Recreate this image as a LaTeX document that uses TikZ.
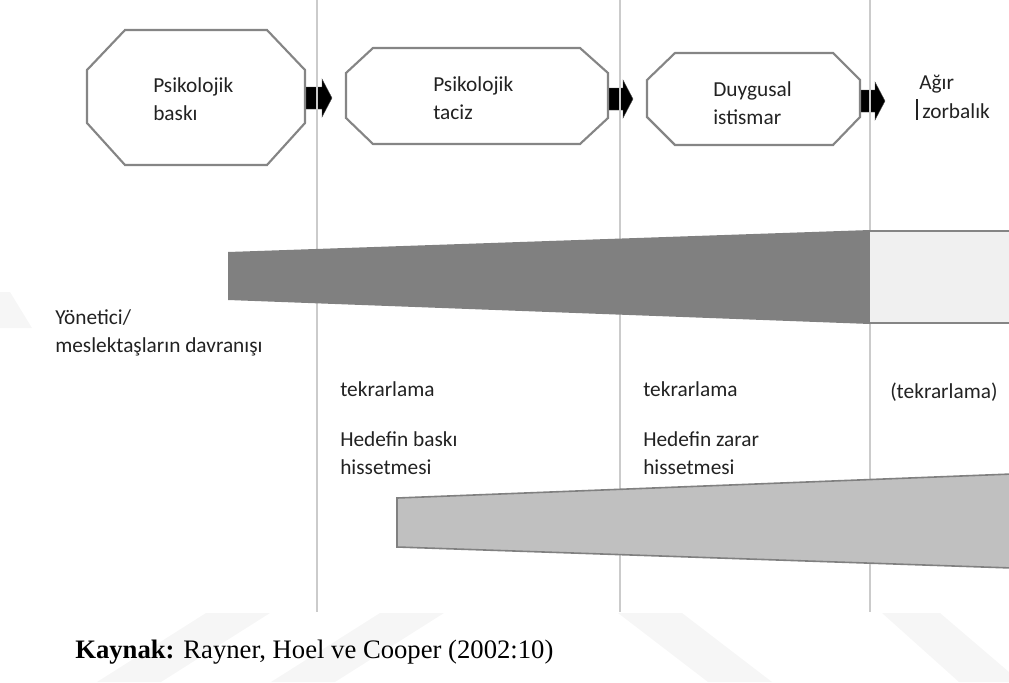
\documentclass[tikz,border=0pt]{standalone}
\usepackage{fontspec}
\setmainfont{Carlito}
\newfontfamily\timesfont{Liberation Serif}
\usetikzlibrary{calc}
\definecolor{txt}{HTML}{222222}
\definecolor{vline}{HTML}{CBCBCB}
\definecolor{octline}{HTML}{858585}
\definecolor{darkband}{HTML}{808080}
\definecolor{lightbox}{HTML}{F0F0F0}
\definecolor{midband}{HTML}{C0C0C0}
\definecolor{wmark}{HTML}{F6F6F6}
\tikzset{
  octo/.style={draw=octline, line width=1.6pt, fill=white, line join=miter},
  lbl/.style={anchor=west, inner sep=0pt, align=left, text=txt,
    font=\fontsize{16}{21}\selectfont},
  phase/.style={draw=vline, line width=2.2pt},
  blockarrow/.style={fill=black, draw=black!70, line width=0.3pt},
  wm/.style={fill=wmark, draw=none}
}
\begin{document}
\begin{tikzpicture}[x=0.75pt, y=-0.75pt]
\useasboundingbox (0,0) rectangle (1009,682);
% faint watermark
\fill[wm] (206,613) -- (270,613) -- (161,682) -- (97,682) -- cycle;
\fill[wm] (380,613) -- (444,613) -- (335,682) -- (271,682) -- cycle;
\fill[wm] (618,613) -- (682,613) -- (772,682) -- (708,682) -- cycle;
\fill[wm] (882,613) -- (940,613) -- (1009,672) -- (1009,682) -- (959,682) -- cycle;
\fill[wm] (0,292) -- (10,292) -- (32,328) -- (0,328) -- cycle;

% block arrows (under the phase lines)
\coordinate (o1e) at (305,98);
\coordinate (o2e) at (608,99);
\coordinate (o3e) at (860,101);
\foreach \c/\len in {o1e/27, o2e/25, o3e/25}{
  \fill[blockarrow] ($(\c)+(-1,-11)$) -- ($(\c)+(\len-10,-11)$) -- ($(\c)+(\len-10,-19)$)
    -- ($(\c)+(\len,0)$) -- ($(\c)+(\len-10,19)$) -- ($(\c)+(\len-10,11)$)
    -- ($(\c)+(-1,11)$) -- cycle;
}

% phase lines
\coordinate (l1t) at (317,0);   \coordinate (l1b) at (317,612);
\coordinate (l2t) at (620,0);   \coordinate (l2b) at (620,612);
\coordinate (l3t) at (870,0);   \coordinate (l3b) at (870,612);
\draw[phase] (l1t) -- (l1b);
\draw[phase] (l2t) -- (l2b);
\draw[phase] (l3t) -- (l3b);

% octagons
\draw[octo] (125,30) -- (267,30) -- (305,70) -- (305,123) -- (267,165)
  -- (125,165) -- (87,123) -- (87,70) -- cycle;
\draw[octo] (373,48) -- (580,48) -- (608,73) -- (608,118) -- (580,144)
  -- (373,144) -- (346,118) -- (346,73) -- cycle;
\draw[octo] (675,53) -- (833,53) -- (860,80) -- (860,117) -- (833,145)
  -- (675,145) -- (647,117) -- (647,80) -- cycle;

\node[lbl] (s1) at (153,99) {Psikolojik\\baskı};
\node[lbl] (s2) at (433,98) {Psikolojik\\taciz};
\node[lbl] (s3) at (713,103) {Duygusal\\istismar};
\node[lbl] (s4a) at (919,84) {Ağır};
\node[lbl] (s4b) at (922,111) {zorbalık};
\draw[txt, line width=1.3pt] (917,99) -- (917,120);

% upper band
\fill[darkband] (228,252) -- (870,230) -- (870,324) -- (228,300) -- cycle;
\fill[lightbox] (870,231) rectangle (1009,323);
\draw[octline, line width=1.6pt] (870,231) -- (1009,231);
\draw[octline, line width=1.6pt] (870,323) -- (1009,323);

% lower band
\filldraw[fill=midband, draw=darkband, line width=1.2pt]
  (397,498) -- (1012,474) -- (1012,568) -- (397,547) -- cycle;

% labels
\node[lbl] (beh) at (55,333) {Yönetici/\\meslektaşların davranışı};
\node[lbl] (r1) at (340,389) {tekrarlama};
\node[lbl] (r2) at (643,389) {tekrarlama};
\node[lbl] (r3) at (890,392) {(tekrarlama)};
\node[lbl] (h1) at (340,453) {Hedefin baskı\\hissetmesi};
\node[lbl] (h2) at (643,453) {Hedefin zarar\\hissetmesi};

\node[anchor=west, inner sep=0pt, font=\timesfont\fontsize{20}{24}\selectfont] (src)
  at (75,652) {\textbf{Kaynak:} Rayner, Hoel ve Cooper (2002:10)};
\end{tikzpicture}
\end{document}
